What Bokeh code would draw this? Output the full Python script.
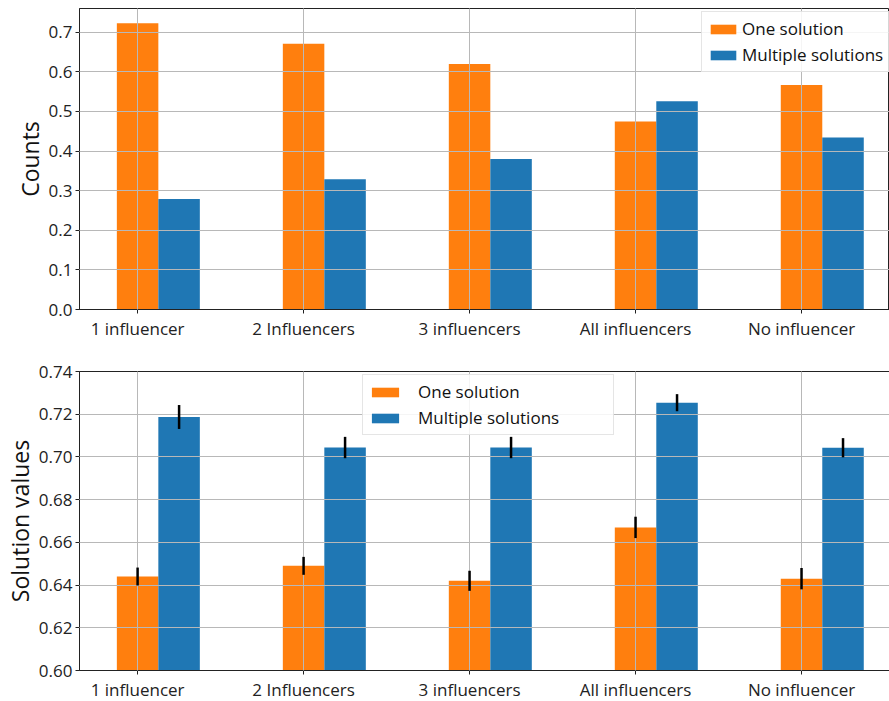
from bokeh.plotting import figure
from bokeh.layouts import column
from bokeh.models import FixedTicker, Legend, LegendItem, Range1d, PrintfTickFormatter
from bokeh.embed import file_html
from bokeh.resources import INLINE

# Data
categories = ["1 influencer", "2 Influencers", "3 influencers", "All influencers", "No influencer"]
counts_one = [0.723, 0.671, 0.620, 0.475, 0.567]
counts_multi = [0.279, 0.329, 0.380, 0.526, 0.434]
values_one = [0.644, 0.649, 0.642, 0.667, 0.643]
values_multi = [0.7187, 0.7044, 0.7044, 0.7254, 0.7043]
err_one = [0.0042, 0.0042, 0.0047, 0.0050, 0.0050]
err_multi = [0.0056, 0.0050, 0.0050, 0.0040, 0.0045]

ORANGE = "#ff7f0e"
BLUE = "#1f77b4"
FONT = "Open Sans"
BAR_W = 0.25

xpos = list(range(len(categories)))
xpos_multi = [x + BAR_W for x in xpos]


def make_fig(frame_h, y_range, top, bottom, ylabel, fmt, yticks):
    p = figure(frame_width=810, frame_height=frame_h, output_backend="svg", toolbar_location=None,
               x_range=Range1d(-0.35, 4.53), y_range=y_range,
               min_border_left=78, min_border_right=1,
               min_border_top=top, min_border_bottom=bottom)
    p.outline_line_color = "#222222"
    p.outline_line_width = 1
    p.background_fill_color = "white"
    p.border_fill_color = "white"

    p.xaxis.ticker = FixedTicker(ticks=xpos)
    p.xaxis.major_label_overrides = {i: c for i, c in enumerate(categories)}
    p.yaxis.ticker = FixedTicker(ticks=yticks)
    p.yaxis.formatter = PrintfTickFormatter(format=fmt)
    p.yaxis.axis_label = ylabel
    p.yaxis.axis_label_text_font = FONT
    p.yaxis.axis_label_text_font_size = "23px"
    p.yaxis.axis_label_text_font_style = "normal"
    p.yaxis.axis_label_text_color = "#111111"
    p.yaxis.axis_label_standoff = 0
    for ax in (p.xaxis, p.yaxis):
        ax.major_label_text_font = FONT
        ax.major_label_text_font_size = "17px"
        ax.major_label_text_color = "#222222"
        ax.major_tick_out = 4
        ax.major_tick_in = 0
        ax.major_tick_line_color = "#222222"
        ax.minor_tick_line_color = None
        ax.axis_line_color = "#222222"
        ax.major_label_standoff = 3
    for g in (p.xgrid, p.ygrid):
        g.grid_line_color = "#b8b8b8"
        g.grid_line_width = 1
        g.level = "guide"
    p.xgrid.ticker = FixedTicker(ticks=xpos)
    p.ygrid.ticker = FixedTicker(ticks=yticks)
    return p


def make_legend(renderers, location, glyph_w, standoff, label_w=None):
    kw = dict(label_width=label_w) if label_w else {}
    return Legend(items=[LegendItem(label="One solution", renderers=[renderers[0]]),
                         LegendItem(label="Multiple solutions", renderers=[renderers[1]])],
                  location=location, margin=0, padding=5, spacing=3,
                  glyph_width=glyph_w, glyph_height=12, label_height=22,
                  label_standoff=standoff,
                  label_text_font=FONT, label_text_font_size="17px",
                  label_text_color="#111111",
                  border_line_color="#cccccc", background_fill_color="white",
                  background_fill_alpha=0.85, **kw)


# Proportion of runs with one vs multiple solutions
p1 = make_fig(301, Range1d(0, 0.76), 8, 41, "Counts", "%.1f",
              [0.0, 0.1, 0.2, 0.3, 0.4, 0.5, 0.6, 0.7])
r1a = p1.vbar(x=xpos, top=counts_one, bottom=0, width=BAR_W, fill_color=ORANGE, line_color=None)
r1b = p1.vbar(x=xpos_multi, top=counts_multi, bottom=0, width=BAR_W, fill_color=BLUE, line_color=None)
p1.add_layout(make_legend([r1a, r1b], (622, 237), 32, 3))

# Mean solution values with error bars
p2 = make_fig(299, Range1d(0.60, 0.74), 21, 31, "Solution values", "%.2f",
              [0.60, 0.62, 0.64, 0.66, 0.68, 0.70, 0.72, 0.74])
r2a = p2.vbar(x=xpos, top=values_one, bottom=0, width=BAR_W, fill_color=ORANGE, line_color=None)
r2b = p2.vbar(x=xpos_multi, top=values_multi, bottom=0, width=BAR_W, fill_color=BLUE, line_color=None)
for xs, vals, errs in ((xpos, values_one, err_one), (xpos_multi, values_multi, err_multi)):
    p2.segment(x0=xs, y0=[v - e for v, e in zip(vals, errs)],
               x1=xs, y1=[v + e for v, e in zip(vals, errs)],
               line_color="black", line_width=2.5, level="annotation")
p2.add_layout(make_legend([r2a, r2b], (283, 235), 34, 16, 190))

layout = column(p1, p2, spacing=0)
open("out.html", "w").write(file_html(layout, INLINE))
